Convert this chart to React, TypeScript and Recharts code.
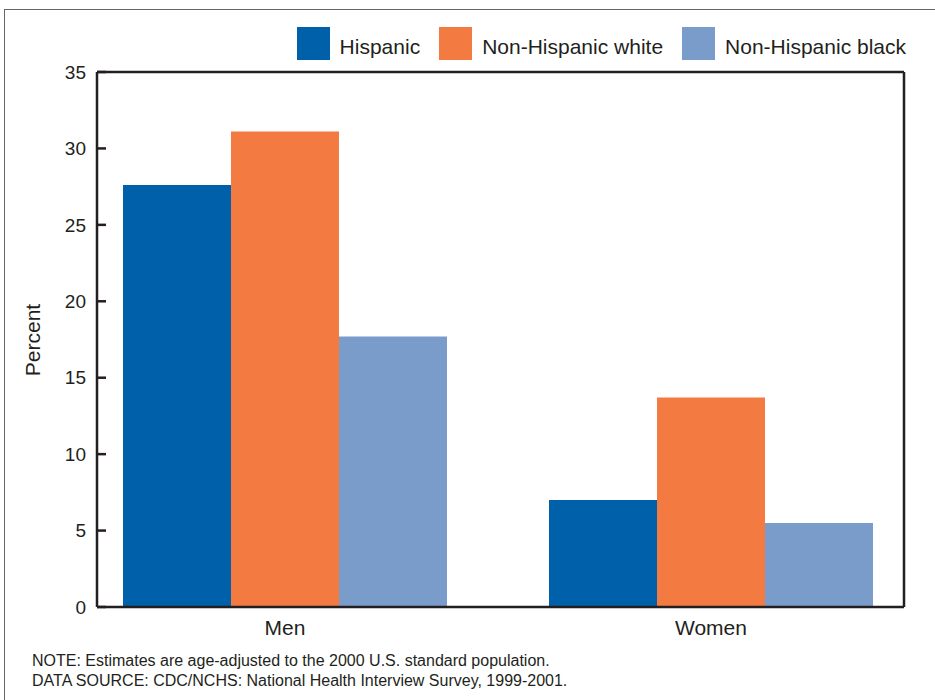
import { BarChart, Bar, XAxis, YAxis, CartesianGrid } from 'recharts'

const groups = ['Men', 'Women']
const hispanic = [27.6, 7.0]
const nhWhite = [31.1, 13.7]
const nhBlack = [17.7, 5.5]
const yTicks = [0, 5, 10, 15, 20, 25, 30, 35]

const seriesNames = ['Hispanic', 'Non-Hispanic white', 'Non-Hispanic black']
const seriesColors = ['#0060a9', '#f37a40', '#7a9ccb']

const data = groups.map((g, i) => ({
  group: g,
  hispanic: hispanic[i],
  white: nhWhite[i],
  black: nhBlack[i],
}))

const font = '"Liberation Sans", Arial, Helvetica, sans-serif'
const ink = '#231f20'

export default function App() {
  return (
    <div style={{ position: 'absolute', left: 0, top: 0, width: 935, height: 700, background: '#fff', fontFamily: font, color: ink }}>
      <div style={{ position: 'absolute', left: 4, top: 9, width: 931, height: 0, borderTop: '1.5px solid #666' }} />
      <div style={{ position: 'absolute', left: 4, top: 9, width: 0, height: 691, borderLeft: '1.5px solid #666' }} />

      <div style={{ position: 'absolute', top: 24, right: 29, display: 'flex', alignItems: 'center' }}>
        {seriesNames.map((n, i) => (
          <div key={n} style={{ display: 'flex', alignItems: 'center', marginLeft: i ? 19 : 0 }}>
            <div style={{ width: 33, height: 33, background: seriesColors[i], marginRight: 10 }} />
            <span style={{ fontSize: 21, lineHeight: '33px', paddingTop: 6 }}>{n}</span>
          </div>
        ))}
      </div>

      <div style={{ position: 'absolute', left: 33, top: 340, transform: 'translate(-50%, -50%) rotate(-90deg)', fontSize: 21, whiteSpace: 'nowrap' }}>
        Percent
      </div>

      <div style={{ position: 'absolute', left: 0, top: 0 }}>
        <BarChart
          width={935}
          height={700}
          data={data}
          margin={{ top: 71, right: 30, left: 37, bottom: 53 }}
          barCategoryGap={51}
          barGap={0}
        >
          {/* dash pattern keeps only the first 9px of each grid line: inward tick marks */}
          <CartesianGrid vertical={false} stroke={ink} strokeWidth={2.5} strokeDasharray="9 2000" />
          <XAxis
            dataKey="group"
            padding={{ left: -25, right: -20 }}
            axisLine={{ stroke: ink, strokeWidth: 2.5 }}
            tickLine={false}
            tickSize={0}
            tickMargin={13}
            height={40}
            tick={{ fontSize: 21, fill: ink, fontFamily: font }}
          />
          <XAxis xAxisId="top" orientation="top" dataKey="group" height={1} tick={false} tickLine={false} axisLine={{ stroke: ink, strokeWidth: 2.5 }} />
          <YAxis
            domain={[0, 35]}
            ticks={yTicks}
            width={60}
            axisLine={{ stroke: ink, strokeWidth: 2.5 }}
            tickLine={false}
            tickSize={0}
            tickMargin={11}
            tick={{ fontSize: 19, fill: ink, fontFamily: font }}
          />
          <YAxis yAxisId="right" orientation="right" domain={[0, 35]} width={1} tick={false} tickLine={false} axisLine={{ stroke: ink, strokeWidth: 2.5 }} />
          <Bar dataKey="hispanic" name={seriesNames[0]} fill={seriesColors[0]} isAnimationActive={false} />
          <Bar dataKey="white" name={seriesNames[1]} fill={seriesColors[1]} isAnimationActive={false} />
          <Bar dataKey="black" name={seriesNames[2]} fill={seriesColors[2]} isAnimationActive={false} />
        </BarChart>
      </div>

      <div style={{ position: 'absolute', left: 32, top: 651, fontSize: 16, lineHeight: '20px' }}>
        NOTE: Estimates are age-adjusted to the 2000 U.S. standard population.
        <br />
        DATA SOURCE: CDC/NCHS: National Health Interview Survey, 1999-2001.
      </div>
    </div>
  )
}
